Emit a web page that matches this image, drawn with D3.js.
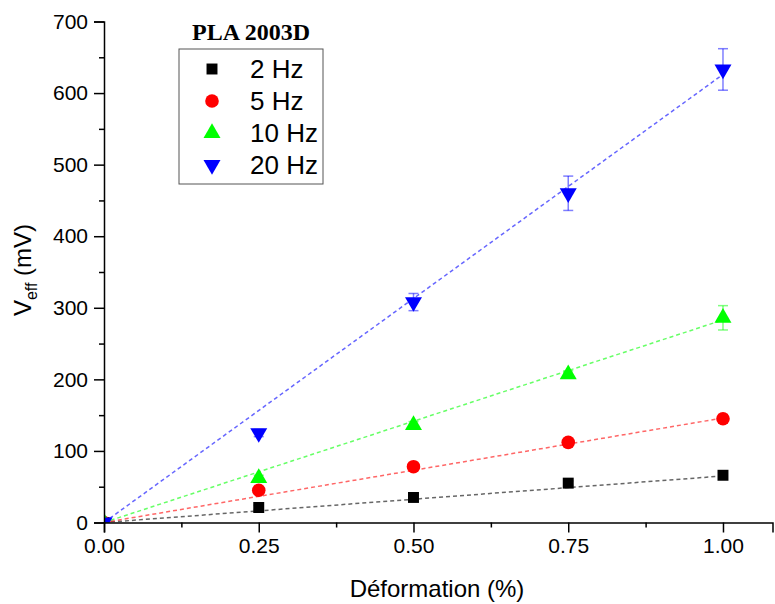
<!DOCTYPE html>
<html><head><meta charset="utf-8">
<script src="https://cdn.jsdelivr.net/npm/d3@7"></script>
<style>body{margin:0;background:#fff}svg{display:block}</style>
</head><body>
<script>
const strains = [0, 0.25, 0.5, 0.75, 1.0];
const seriesNames = ["2 Hz", "5 Hz", "10 Hz", "20 Hz"];
const v2Hz  = [0, 21, 35, 55, 66];
const v5Hz  = [0, 45, 78, 112, 145];
const v10Hz = [0, 62, 136, 207, 286];
const v20Hz = [0, 125, 308, 460, 633];
const e2Hz  = [0, 3, 3, 3, 4];
const e5Hz  = [0, 4, 4, 4, 6];
const e10Hz = [0, 4, 5, 5, 17];
const e20Hz = [0, 5, 12, 24, 29];
const fitSlopes = [65, 146, 283, 626];
const colors = ["#000000", "#ff0000", "#00ff00", "#0000ff"];
const yTicks = [0, 100, 200, 300, 400, 500, 600, 700];
const xTicks = [0, 0.25, 0.5, 0.75, 1.0];
const legendTitle = "PLA 2003D";

const values = [v2Hz, v5Hz, v10Hz, v20Hz];
const errs = [e2Hz, e5Hz, e10Hz, e20Hz];

const W = 775, H = 604;
const svg = d3.select("body").append("svg").attr("width", W).attr("height", H);
const x = d3.scaleLinear().domain([0, 1.08]).range([104, 772.5]);
const y = d3.scaleLinear().domain([0, 700]).range([522.5, 21.5]);

svg.append("defs").append("clipPath").attr("id", "clip")
  .append("rect").attr("x", 104).attr("y", 0).attr("width", 670).attr("height", 522.5);

const plot = svg.append("g").attr("clip-path", "url(#clip)");

fitSlopes.forEach((s, i) => {
  plot.append("line")
    .attr("x1", x(0)).attr("y1", y(0))
    .attr("x2", x(1)).attr("y2", y(s))
    .attr("stroke", colors[i]).attr("stroke-opacity", 0.6)
    .attr("stroke-width", 1.5).attr("stroke-dasharray", "4,3");
});

values.forEach((vals, i) => {
  vals.forEach((v, j) => {
    const e = errs[i][j];
    if (!e) return;
    const g = plot.append("g").attr("stroke", colors[i]).attr("stroke-opacity", 0.5).attr("stroke-width", 1.5);
    g.append("line").attr("x1", x(strains[j])).attr("x2", x(strains[j])).attr("y1", y(v - e)).attr("y2", y(v + e));
    g.append("line").attr("x1", x(strains[j]) - 5).attr("x2", x(strains[j]) + 5).attr("y1", y(v - e)).attr("y2", y(v - e));
    g.append("line").attr("x1", x(strains[j]) - 5).attr("x2", x(strains[j]) + 5).attr("y1", y(v + e)).attr("y2", y(v + e));
  });
});

const symbols = [
  d3.symbol().type(d3.symbolSquare).size(120),
  d3.symbol().type(d3.symbolCircle).size(145),
  d3.symbol().type(d3.symbolTriangle).size(125),
  d3.symbol().type(d3.symbolTriangle).size(125)
];
function marker(g, i, cx, cy) {
  g.append("path").attr("d", symbols[i]())
    .attr("transform", `translate(${cx},${cy})` + (i === 3 ? " rotate(180)" : ""))
    .attr("fill", colors[i]);
}
values.forEach((vals, i) => {
  vals.forEach((v, j) => marker(plot, i, x(strains[j]), y(v)));
});

const font = "Arial, 'Liberation Sans', sans-serif";
const xAxis = svg.append("g").attr("transform", `translate(0,${y(0)})`)
  .call(d3.axisBottom(x).tickValues(xTicks).tickFormat(d3.format(".2f")).tickSizeOuter(0).tickSize(10).tickPadding(6));
svg.append("g").attr("transform", `translate(0,${y(0)})`)
  .call(d3.axisBottom(x).tickValues([0.125, 0.375, 0.625, 0.875]).tickFormat("").tickSizeOuter(0).tickSize(5))
  .select(".domain").remove();
const yAxis = svg.append("g").attr("transform", `translate(${x(0)},0)`)
  .call(d3.axisLeft(y).tickValues(yTicks).tickSizeOuter(0).tickSize(10).tickPadding(6));
svg.append("g").attr("transform", `translate(${x(0)},0)`)
  .call(d3.axisLeft(y).tickValues([50, 150, 250, 350, 450, 550, 650]).tickFormat("").tickSizeOuter(0).tickSize(5))
  .select(".domain").remove();
svg.selectAll(".domain, .tick line").attr("stroke", "#000").attr("stroke-width", 1.5);
xAxis.selectAll("text").attr("font-size", 21).attr("font-family", font).attr("fill", "#000");
yAxis.selectAll("text").attr("font-size", 21).attr("font-family", font).attr("fill", "#000");

svg.append("text").attr("x", 437).attr("y", 597).attr("text-anchor", "middle")
  .attr("font-family", font).attr("font-size", 24).text("Déformation (%)");
const yt = svg.append("text").attr("transform", "translate(31,270) rotate(-90)").attr("text-anchor", "middle")
  .attr("font-family", font).attr("font-size", 24);
yt.append("tspan").text("V");
yt.append("tspan").attr("font-size", 16).attr("dy", 6).text("eff");
yt.append("tspan").attr("dy", -6).text(" (mV)");

svg.append("text").attr("x", 251).attr("y", 40).attr("text-anchor", "middle")
  .attr("font-family", "'Liberation Serif', 'Times New Roman', serif").attr("font-weight", "bold")
  .attr("font-size", 24).text(legendTitle);
svg.append("rect").attr("x", 179).attr("y", 49).attr("width", 144).attr("height", 135)
  .attr("fill", "#fff").attr("stroke", "#555").attr("stroke-width", 1);
seriesNames.forEach((n, i) => {
  const cy = 69 + i * 32;
  marker(svg, i, 212, cy);
  svg.append("text").attr("x", 250).attr("y", cy + 9).attr("font-family", font)
    .attr("font-size", 26).text(n);
});
</script>
</body></html>
